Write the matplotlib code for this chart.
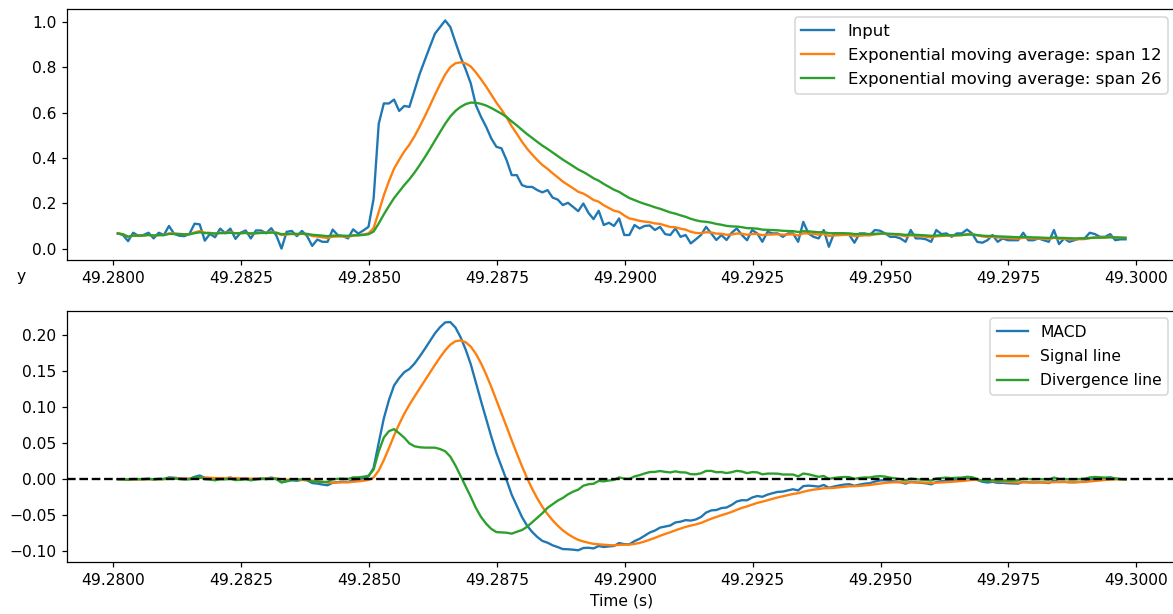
import numpy as np
import pandas as pd
import matplotlib
matplotlib.use("Agg")
import matplotlib.pyplot as plt

t_start = 49.28009
dt = 0.0001
input_vals = [
    0.067, 0.06, 0.033, 0.07, 0.057, 0.06, 0.07, 0.045, 0.07, 0.06,
    0.10, 0.065, 0.057, 0.055, 0.065, 0.11, 0.107, 0.035, 0.065, 0.05,
    0.088, 0.068, 0.088, 0.043, 0.07, 0.08, 0.045, 0.08, 0.08, 0.068,
    0.09, 0.057, 0.0, 0.074,
    0.078, 0.055, 0.078, 0.055, 0.012, 0.04, 0.03, 0.03, 0.084, 0.059,
    0.055, 0.045, 0.085, 0.066, 0.08, 0.096,
    0.22, 0.55, 0.64, 0.64, 0.657, 0.607, 0.629, 0.625, 0.698, 0.77,
    0.83, 0.89, 0.948, 0.977, 1.006, 0.977, 0.91, 0.845, 0.79, 0.728,
    0.632, 0.581, 0.537, 0.486, 0.449, 0.442, 0.39, 0.324, 0.324, 0.28,
    0.272, 0.272, 0.258, 0.248, 0.258,
    0.225, 0.216, 0.192, 0.202, 0.184, 0.165, 0.199, 0.158, 0.130, 0.167,
    0.104, 0.114, 0.10, 0.133, 0.06, 0.06, 0.104, 0.089, 0.10, 0.102,
    0.082, 0.096, 0.064, 0.06, 0.089, 0.052, 0.06, 0.023, 0.041, 0.06,
    0.096, 0.067, 0.038, 0.06, 0.038, 0.07,
    0.089, 0.060, 0.037, 0.082, 0.067, 0.030, 0.074, 0.067, 0.067, 0.052,
    0.067, 0.067, 0.030, 0.118, 0.067, 0.052, 0.045, 0.082, 0.008, 0.067,
    0.067, 0.067, 0.060, 0.026, 0.067, 0.067, 0.060, 0.082, 0.079, 0.067,
    0.052, 0.052, 0.045, 0.030, 0.082, 0.045, 0.045,
    0.041, 0.030, 0.082, 0.064, 0.067, 0.052, 0.067, 0.067, 0.084, 0.067,
    0.030, 0.026, 0.037, 0.060, 0.030, 0.045, 0.037, 0.037, 0.037, 0.070,
    0.037, 0.037, 0.045, 0.037, 0.030, 0.082, 0.020, 0.045, 0.030, 0.037,
    0.045, 0.045, 0.070, 0.064, 0.052, 0.052, 0.064, 0.037, 0.041, 0.041,
]
span_fast = 12
span_slow = 26
span_signal = 9

t = t_start + dt * np.arange(len(input_vals))
y = pd.Series(input_vals, index=t)

ema_fast = y.ewm(span=span_fast).mean()
ema_slow = y.ewm(span=span_slow).mean()
macd = ema_fast - ema_slow
signal = macd.ewm(span=span_signal).mean()
divergence = macd - signal

fig = plt.figure(figsize=(1173 / 112, 614 / 112), dpi=112)
ax1 = fig.add_axes([0.0575, 0.5765, 0.945, 0.4088])
ax2 = fig.add_axes([0.0575, 0.0852, 0.945, 0.4088])

ax1.plot(t, y, label="Input")
ax1.plot(t, ema_fast, label="Exponential moving average: span %d" % span_fast)
ax1.plot(t, ema_slow, label="Exponential moving average: span %d" % span_slow)
ax1.legend(loc="upper right", fontsize=10.6, labelspacing=0.55)
ax1.set_ylabel("y", rotation=0, ha="center", va="center")
ax1.yaxis.set_label_coords(-0.042, -0.064)

ax2.plot(t, macd, label="MACD")
ax2.plot(t, signal, label="Signal line")
ax2.plot(t, divergence, label="Divergence line")
ax2.axhline(0, color="k", linestyle="--")
ax2.legend(loc="upper right", labelspacing=0.6)
ax2.set_xlabel("Time (s)")

for ax in (ax1, ax2):
    ax.set_xticks(np.arange(49.28, 49.30001, 0.0025))
    ax.xaxis.set_major_formatter(matplotlib.ticker.FormatStrFormatter("%.4f"))

fig.savefig("out.png", dpi=112)
